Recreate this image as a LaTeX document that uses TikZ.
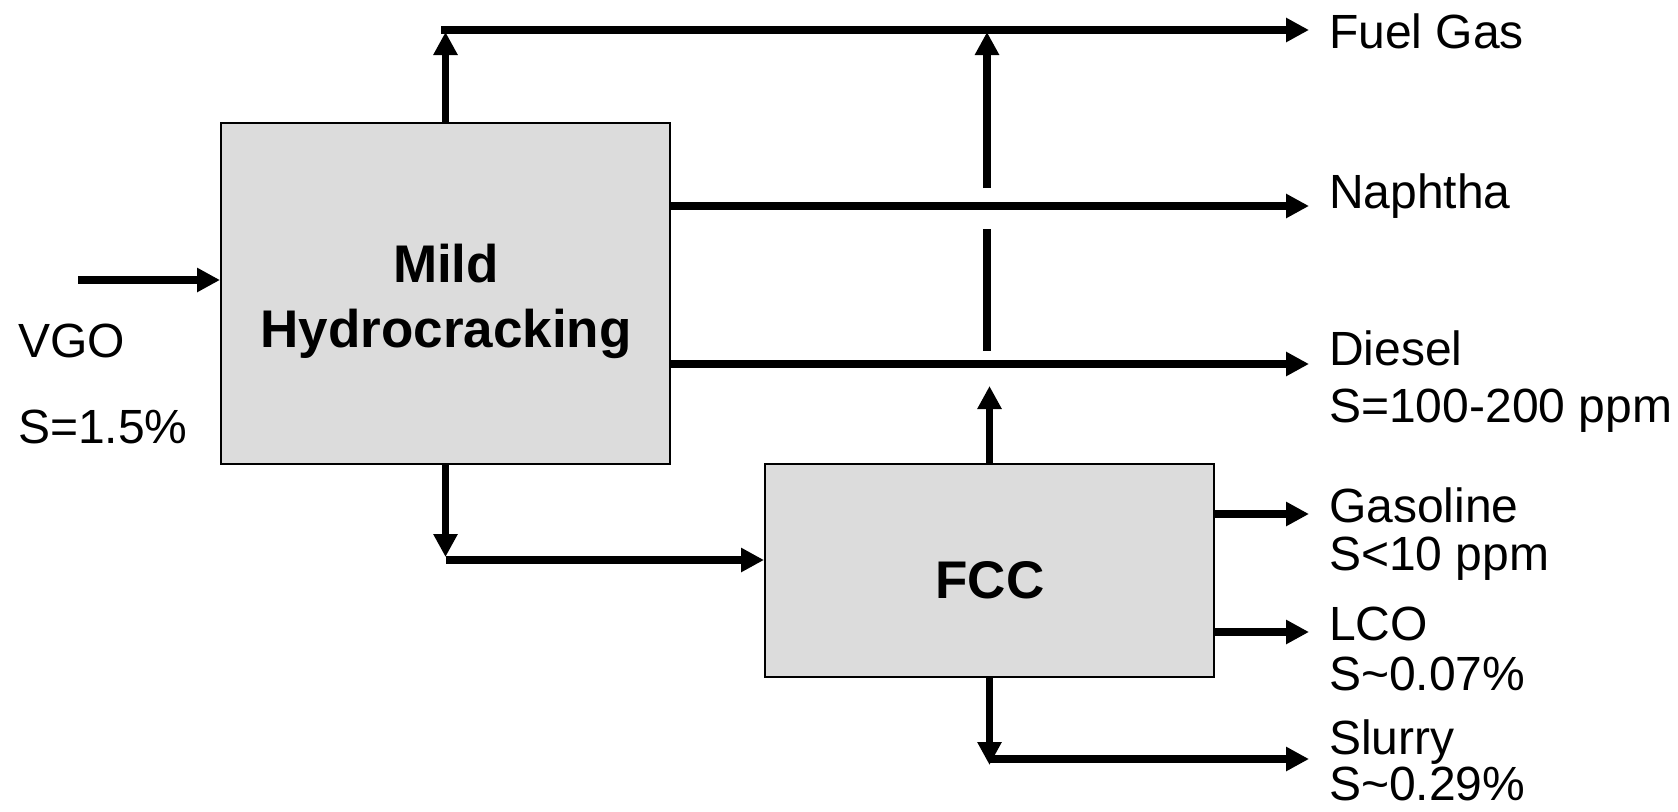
\documentclass[tikz,border=0pt]{standalone}
\usepackage{fontspec}
\setmainfont{Liberation Sans}
\usetikzlibrary{arrows.meta}
\definecolor{boxgray}{HTML}{DCDCDC}
\begin{document}
\begin{tikzpicture}[x=1pt,y=-1pt,
  flow/.style={line width=7.5pt,-{Triangle[length=23pt,width=23pt]}},
  plain/.style={line width=7.5pt},
  unit/.style={draw=black,line width=2pt,fill=boxgray,inner sep=0pt},
  unittext/.style={anchor=base,inner sep=0pt,font=\fontsize{53}{63}\selectfont\bfseries},
  lbl/.style={anchor=base west,inner sep=0pt,font=\fontsize{48}{58}\selectfont}]
\useasboundingbox (0,0) rectangle (1678,811);
% units
\node[unit,minimum width=449pt,minimum height=341pt] (mhc) at (445.5,293.5) {};
\node[unit,minimum width=449pt,minimum height=213pt] (fcc) at (989.5,570.5) {};
\node[unittext] (mhcA) at (446,282) {Mild};
\node[unittext] (mhcB) at (446,347) {Hydrocracking};
\node[unittext] (fcct) at (990,598) {FCC};
% labels
\node[lbl] (vgo) at (18,357) {VGO};
\node[lbl] (vgos) at (18,443) {S=1.5\%};
\node[lbl] (fuel) at (1329,48) {Fuel Gas};
\node[lbl] (naph) at (1329,208) {Naphtha};
\node[lbl] (dies) at (1329,365) {Diesel};
\node[lbl] (diess) at (1329,422) {S=100-200 ppm};
\node[lbl] (gaso) at (1329,522) {Gasoline};
\node[lbl] (gasos) at (1329,570) {S<10 ppm};
\node[lbl] (lco) at (1329,640) {LCO};
\node[lbl] (lcos) at (1329,690) {S\textasciitilde 0.07\%};
\node[lbl] (slur) at (1329,754) {Slurry};
\node[lbl] (slurs) at (1329,800) {S\textasciitilde 0.29\%};
% coordinates
\coordinate (vgoStart) at (78,280);
\coordinate (topL) at (441,30);
\coordinate (fgEnd) at (1309,30);
\coordinate (naEnd) at (1309,206);
\coordinate (diEnd) at (1309,364);
\coordinate (gaEnd) at (1309,514);
\coordinate (lcEnd) at (1309,632);
\coordinate (slEnd) at (1309,759);
\coordinate (upA) at (987,188);
\coordinate (upTip) at (987,32);
\coordinate (midA) at (987,229);
\coordinate (midB) at (987,351);
\coordinate (fccUpTip) at (989.5,386);
\coordinate (mhcDownTip) at (445.5,557);
\coordinate (feedL) at (446,560);
\coordinate (slDownTip) at (989.5,765);
\coordinate (slL) at (989.5,759);
% connectors
\draw[flow] (vgoStart) -- (vgoStart -| mhc.west);
\draw[flow] (mhc.north) -- (mhc.north |- 0,32);
\draw[flow] (topL) -- (fgEnd);
\draw[flow] (upA) -- (upTip);
\draw[plain] (midA) -- (midB);
\draw[flow] (fcc.north) -- (fccUpTip);
\draw[flow] (naEnd -| mhc.east) -- (naEnd);
\draw[flow] (diEnd -| mhc.east) -- (diEnd);
\draw[flow] (mhc.south) -- (mhcDownTip);
\draw[flow] (feedL) -- (feedL -| fcc.west);
\draw[flow] (gaEnd -| fcc.east) -- (gaEnd);
\draw[flow] (lcEnd -| fcc.east) -- (lcEnd);
\draw[flow] (fcc.south) -- (slDownTip);
\draw[flow] (slL) -- (slEnd);
\end{tikzpicture}
\end{document}
